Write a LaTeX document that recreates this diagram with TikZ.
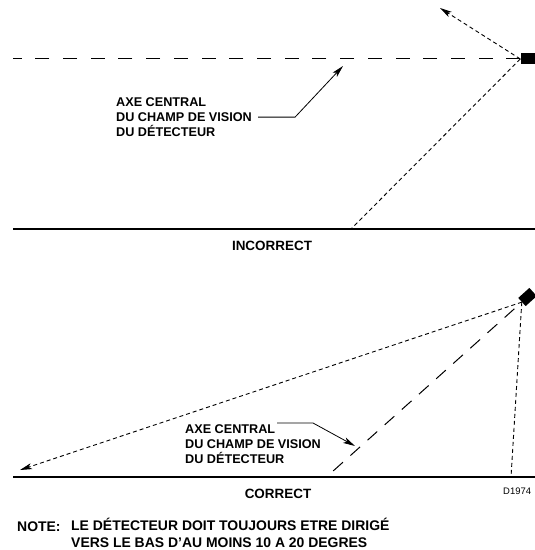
\documentclass[tikz,border=0pt]{standalone}
\usepackage{fontspec}
\setmainfont{Liberation Sans}
\usetikzlibrary{arrows.meta}

\begin{document}
\begin{tikzpicture}
    [ x = 1bp, y = -1bp
    , > = {Stealth[length=12bp,width=6bp,inset=3bp]}
    , lbl/.style =
      { inner sep = 0pt, font = \fontsize{12.7}{15.5}\selectfont\bfseries }
    , title/.style =
      { inner sep = 0pt, font = \fontsize{13.5}{16}\selectfont\bfseries }
    , remark/.style =
      { inner sep = 0pt, align = left
      , font = \fontsize{14}{16.5}\selectfont\bfseries }
    , sensor/.style =
      { fill, inner sep = 0pt, minimum width = 15bp, minimum height = 11bp }
    , ground/.style =
      { line width = 1.8bp }
    , axis/.style =
      { line width = 1bp, dash pattern = on 14bp off 13.7bp }
    , fov/.style =
      { line width = .9bp, dash pattern = on 4bp off 3bp }
    , leader/.style =
      { line width = .8bp }
    ]
    \useasboundingbox (0,0) rectangle (535,550);

    % incorrect
    \node [sensor] (det1) at (528,59) {};
    \coordinate (far1) at (13,59);
    \coordinate (up1) at (440,8);
    \coordinate (hit1) at (351,229);
    \coordinate (g1l) at (13,229);
    \coordinate (g1r) at (535,229);
    \coordinate (tip1) at (343,66);

    \draw [axis] (det1.west) -- (far1);
    \draw [fov,->] (det1.west) -- (up1);
    \draw [fov] (det1.west) -- (hit1);
    \draw [ground] (g1l) -- (g1r);

    \node [lbl,align=left,anchor=north west] (axe1) at (116,97)
      {AXE CENTRAL\\DU CHAMP DE VISION\\DU DÉTECTEUR};
    \node [title] (incorrect) at (272,246) {INCORRECT};
    \draw [leader,->] ([xshift=6bp]axe1.east) -- ++(37,0) -- (tip1);

    % correct
    \node [sensor,rotate=42] (det2) at (527.5,297) {};
    \coordinate (far2) at (20,470);
    \coordinate (hit2) at (332,472);
    \coordinate (foot2) at (511,477);
    \coordinate (g2l) at (13,477);
    \coordinate (g2r) at (535,477);
    \coordinate (tip2) at (355,446);
    \coordinate (lead2) at (277,423);

    \draw [fov,->] (det2.west) -- (far2);
    \draw [axis,dash pattern=on 13bp off 10bp,dash phase=13bp]
      (det2.west) -- (hit2);
    \draw [fov] (det2.west) -- (foot2);
    \draw [ground] (g2l) -- (g2r);

    \node [lbl,align=left,anchor=north west] (axe2) at (185,424)
      {AXE CENTRAL\\DU CHAMP DE VISION\\DU DÉTECTEUR};
    \node [title] (correct) at (278,494) {CORRECT};
    \node [inner sep=0pt,anchor=west,font=\fontsize{9.5}{10}\selectfont]
      (code) at (503,491) {D1974};
    \draw [leader,->] (lead2) -- ++(36,0) -- (tip2);

    % note
    \node [remark,anchor=base west] (note) at (17,531) {NOTE:};
    \node [remark,anchor=north west] (notetext) at (71,518)
      {LE DÉTECTEUR DOIT TOUJOURS ETRE DIRIGÉ\\VERS LE BAS D'AU MOINS 10 A 20 DEGRES};
\end{tikzpicture}
\end{document}
